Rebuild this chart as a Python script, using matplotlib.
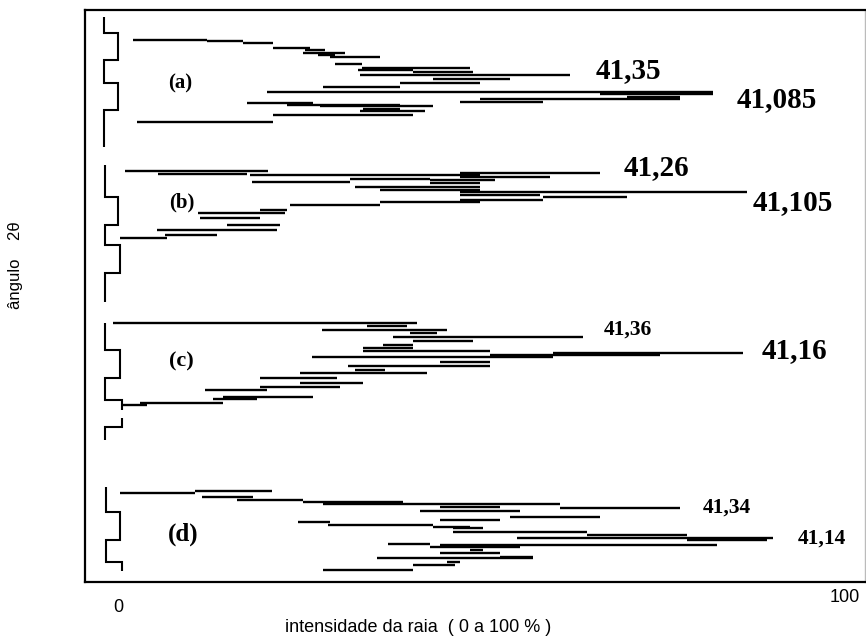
import matplotlib.pyplot as plt

# perfis de difracao desenhados na horizontal: angulo (linha, para baixo) x intensidade (%)
# cada traco: posicao angular (unidades do grafico), inicio e fim da intensidade em %

# perfil (a)
a_y  = [40, 41, 43, 48, 50, 53, 55, 57, 64, 68, 70, 72, 75, 79, 83, 87, 92, 94,
        97, 99, 102, 103, 105, 106, 109, 111, 115, 122]
a_x0 = [2.1, 12.2, 17.2, 21.3, 25.7, 25.4, 27.5, 29.2, 29.8, 33.6, 33.0, 40.6, 33.3,
        43.3, 38.8, 28.2, 20.5, 66.3, 70.0, 49.8, 47.0, 17.7, 23.2, 27.8, 33.7,
        33.3, 21.3, 2.6]
a_x1 = [12.2, 17.2, 21.3, 26.4, 28.5, 31.2, 29.8, 36.0, 33.6, 48.4, 40.6, 48.8, 62.2,
        53.9, 49.8, 38.8, 81.8, 81.8, 77.3, 77.3, 58.5, 26.8, 38.8, 43.3, 38.8,
        42.2, 40.6, 21.3]

# perfil (b)
b_y  = [171, 173, 174, 175, 177, 179, 180, 182, 183, 187, 190, 192, 195, 197, 200,
        202, 205, 210, 213, 218, 225, 230, 235, 238]
b_x0 = [1.0, 47.0, 5.5, 18.2, 47.0, 31.9, 42.9, 18.4, 42.9, 32.6, 36.0, 47.0, 47.0,
        58.5, 47.0, 36.0, 23.7, 19.5, 11.0, 11.3, 15.0, 5.4, 6.5, 0.3]
b_x1 = [20.6, 66.3, 17.7, 49.8, 59.4, 42.9, 51.9, 31.9, 49.8, 49.8, 49.8, 86.5, 58.0,
        70.0, 58.5, 49.8, 36.0, 23.2, 23.0, 19.5, 22.3, 21.9, 13.6, 6.7]

# perfil (c)
c_y  = [323, 326, 330, 333, 337, 341, 345, 348, 351, 353, 355, 357, 362, 366, 370,
        373, 378, 383, 387, 390, 397, 399, 403, 405]
c_x0 = [-0.7, 34.3, 28.1, 40.2, 37.8, 40.6, 36.5, 33.7, 33.7, 59.8, 51.2, 26.7, 44.3,
        31.6, 32.6, 25.0, 19.5, 25.0, 19.5, 12.0, 14.4, 13.1, 3.0, 0.6]
c_x1 = [41.1, 39.8, 45.3, 43.9, 64.0, 48.8, 40.6, 40.6, 51.2, 86.0, 74.6, 59.8, 51.2,
        51.2, 36.7, 42.5, 30.1, 33.7, 30.5, 20.5, 26.8, 19.1, 14.4, 4.0]

# perfil (d)
d_y  = [491, 493, 497, 500, 502, 504, 507, 508, 511, 517, 520, 522, 525, 527, 528,
        532, 535, 538, 540, 544, 545, 547, 550, 553, 557, 558, 562, 565, 570]
d_x0 = [10.6, 0.3, 11.6, 16.4, 25.4, 28.2, 44.3, 60.8, 41.5, 53.9, 44.3, 24.8, 28.9,
        43.3, 46.1, 46.1, 64.5, 54.9, 78.3, 37.1, 44.3, 42.9, 48.4, 44.3, 52.5,
        35.6, 45.3, 40.6, 28.2]
d_x1 = [21.2, 10.6, 18.6, 25.4, 39.2, 60.8, 52.5, 77.3, 55.3, 66.3, 52.5, 29.2, 43.3,
        48.4, 50.2, 64.5, 78.3, 90.1, 89.3, 42.9, 82.4, 55.3, 50.2, 52.5, 57.1,
        57.1, 47.0, 46.4, 40.6]

# degraus de marcacao do angulo a esquerda
passo_a_bordas = [17, 33, 60, 83, 110, 147]
passo_a_niveis = [-1.9, 0.0, -1.9, 0.0, -1.9]
passo_b_bordas = [165, 197, 225, 245, 273, 302]
passo_b_niveis = [-1.8, 0.0, -1.8, 0.3, -1.8]
passo_c_bordas = [323, 350, 378, 400, 410]
passo_c_niveis = [-1.8, 0.3, -1.8, 0.6]
passo_c2_bordas = [418, 427, 440]
passo_c2_niveis = [0.6, -1.8]
passo_d_bordas = [487, 512, 540, 562, 571]
passo_d_niveis = [-1.7, 0.3, -1.7, 0.6]

# rotulos dos perfis e dos picos
letras = ['(a)', '(b)', '(c)', '(d)']
letras_x = [8.5, 8.8, 8.7, 9.0]
letras_y = [83, 202, 361, 534]
letras_tam = [15, 15, 16, 18]

picos = ['41,35', '41,085', '41,26', '41,105', '41,36', '41,16', '41,34', '41,14']
picos_x = [70.2, 90.6, 74.1, 92.8, 70.2, 93.1, 83.8, 96.8]
picos_y = [71, 100, 168, 203, 330, 351, 508, 539]
picos_tam = [21, 21, 21, 21, 15.5, 21, 15.5, 15.5]

fig = plt.figure(figsize=(8.66, 6.42), dpi=100)
ax = fig.add_axes([0.0982, 0.0935, 0.9006, 0.8909])

for ys, x0, x1 in [(a_y, a_x0, a_x1), (b_y, b_x0, b_x1),
                   (c_y, c_x0, c_x1), (d_y, d_x0, d_x1)]:
    ax.hlines(ys, x0, x1, colors='black', linewidth=1.7)

for niv, bordas in [(passo_a_niveis, passo_a_bordas), (passo_b_niveis, passo_b_bordas),
                    (passo_c_niveis, passo_c_bordas), (passo_c2_niveis, passo_c2_bordas),
                    (passo_d_niveis, passo_d_bordas)]:
    ax.stairs(niv, bordas, orientation='horizontal', baseline=None,
              color='black', linewidth=1.5)

for t, x, y, s in zip(letras, letras_x, letras_y, letras_tam):
    ax.text(x, y, t, fontsize=s, fontweight='bold', family='Liberation Serif',
            ha='center', va='center')

for t, x, y, s in zip(picos, picos_x, picos_y, picos_tam):
    ax.text(x, y, t, fontsize=s, fontweight='bold', family='Liberation Serif',
            ha='center', va='center')

ax.set_xlim(-4.54, 102.75)
ax.set_ylim(582, 10)
ax.set_xticks([])
ax.set_yticks([])

# moldura
for lado in ['left', 'bottom', 'top']:
    ax.spines[lado].set_linewidth(1.6)
ax.spines['right'].set_color('#bbbbbb')
ax.spines['right'].set_linewidth(1.0)

# textos dos eixos
fig.text(118 / 866, 1 - 607 / 642, '0', fontsize=13, family='Liberation Sans',
         ha='center', va='center')
fig.text(845 / 866, 1 - 598 / 642, '100', fontsize=13, family='Liberation Sans',
         ha='center', va='center')
fig.text(418 / 866, 1 - 627 / 642, 'intensidade da raia  ( 0 a 100 % )', fontsize=13,
         family='Liberation Sans', ha='center', va='center')
fig.text(16 / 866, 1 - 265 / 642, 'ângulo    2θ', fontsize=12, family='Liberation Sans',
         rotation=90, ha='center', va='center')

plt.savefig('out.png', dpi=100)
